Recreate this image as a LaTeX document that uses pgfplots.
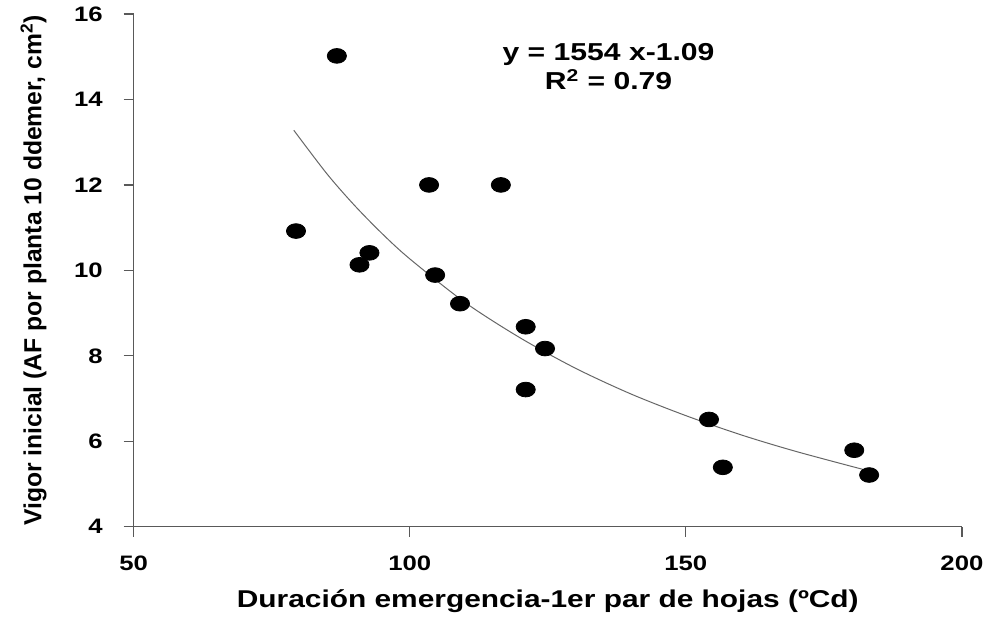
\documentclass[border=0pt]{standalone}
\usepackage{pgfplots}
\pgfplotsset{compat=1.18}
\usepackage{fontspec}
\setmainfont{Liberation Sans}
\newfontfamily\wide{Liberation Sans}[FakeStretch=1.23]
\begin{document}
\begin{tikzpicture}
\begin{axis}[
  scale only axis,
  width=416pt, height=257.5pt,
  xmin=50, xmax=200, ymin=4, ymax=16,
  xtick={50,100,150,200}, ytick={4,6,8,10,12,14,16},
  xticklabels={50,100,150,200}, yticklabels={4,6,8,10,12,14,16},
  axis x line*=bottom, axis y line*=left,
  axis line style={gray!70!black, line width=0.6pt},
  tick style={gray!70!black, line width=0.6pt},
  tick align=outside, major tick length=5pt,
  xticklabel style={font=\wide\bfseries\fontsize{10.5}{12}\selectfont, yshift=-6pt},
  yticklabel style={font=\wide\bfseries\fontsize{10.5}{12}\selectfont, xshift=-7pt},
  xlabel={Duración emergencia-1er par de hojas (ºCd)},
  ylabel={Vigor inicial (AF por planta 10 ddemer, cm\textsuperscript{2})},
  xlabel style={font=\wide\bfseries\fontsize{12.2}{14}\selectfont, yshift=-3pt},
  ylabel style={font=\bfseries\fontsize{12.4}{14}\selectfont, yshift=7pt},
  clip=false,
]
\addplot[gray!80!black, line width=0.5pt, smooth] coordinates {
(79,13.28)(85,12.26)(90,11.52)(95,10.86)(100,10.27)(110,9.25)(120,8.42)(130,7.71)(140,7.11)(150,6.60)(160,6.15)(170,5.76)(183,5.31)};
\addplot[only marks, mark=*, mark size=3.7pt, mark options={black, fill=black, xscale=1.3}] coordinates {
(86.8,15.02)(79.4,10.92)(90.9,10.13)(92.7,10.41)(103.5,12.0)(116.5,12.0)(104.6,9.89)(109.1,9.22)(121.0,8.68)(124.5,8.17)(121.0,7.21)(154.2,6.51)(156.7,5.39)(180.5,5.79)(183.2,5.21)};
\node[font=\wide\bfseries\fontsize{12.3}{14}\selectfont, align=center] at (axis cs:136,14.77) {y = 1554 x-1.09\\[1pt] R\textsuperscript{2} = 0.79};
\end{axis}
\path ([xshift=-7pt]current bounding box.west) ([yshift=-1pt]current bounding box.south);
\end{tikzpicture}
\end{document}
